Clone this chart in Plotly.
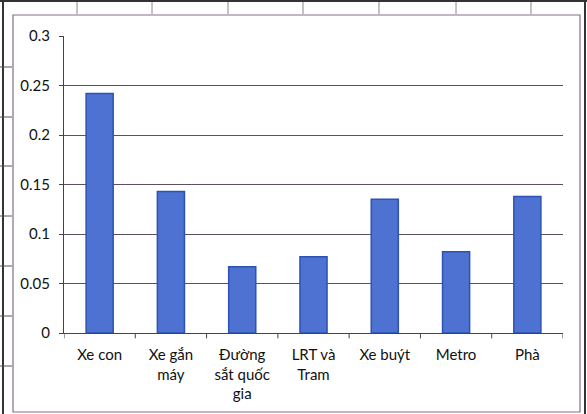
import plotly.graph_objects as go

categories = ["Xe con", "Xe gắn<br>máy", "Đường<br>sắt quốc<br>gia", "LRT và<br>Tram", "Xe buýt", "Metro", "Phà"]
values = [0.242, 0.143, 0.067, 0.077, 0.135, 0.082, 0.138]
y_ticks = [0, 0.05, 0.1, 0.15, 0.2, 0.25, 0.3]
y_tick_labels = ["0", "0.05", "0.1", "0.15", "0.2", "0.25", "0.3"]

fig = go.Figure()
fig.add_trace(go.Bar(
    x=list(range(len(categories))), y=values,
    marker=dict(color="#4d72d2", line=dict(color="#2c52b5", width=1.5)),
    width=0.38,
))

W, H = 587, 414
ml, mr, mt, mb = 64, 24, 36, 81
pw, ph = W - ml - mr, H - mt - mb

def px(x):
    return (x - ml) / pw

def py(y):
    return 1 - (y - mt) / ph

shapes = []
# chart area border
shapes.append(dict(type="rect", xref="paper", yref="paper",
                   x0=px(13), x1=px(580), y0=py(412), y1=py(15),
                   line=dict(color="#8a6a8a", width=1.2)))
# outer spreadsheet lines
shapes.append(dict(type="line", xref="paper", yref="paper", x0=px(3), x1=px(3), y0=py(414), y1=py(0),
                   line=dict(color="#333", width=2)))
shapes.append(dict(type="line", xref="paper", yref="paper", x0=px(585), x1=px(585), y0=py(414), y1=py(0),
                   line=dict(color="#333", width=2)))
shapes.append(dict(type="line", xref="paper", yref="paper", x0=px(0), x1=px(587), y0=py(1), y1=py(1),
                   line=dict(color="#333", width=2)))
for xx in [77, 152, 228, 303, 379, 456, 531]:
    shapes.append(dict(type="line", xref="paper", yref="paper", x0=px(xx), x1=px(xx), y0=py(14), y1=py(2),
                       line=dict(color="#888", width=1)))
for yy in [67, 117, 166, 216, 266, 316, 366]:
    shapes.append(dict(type="line", xref="paper", yref="paper", x0=px(0), x1=px(12), y0=py(yy), y1=py(yy),
                       line=dict(color="#555", width=1)))
# category tick marks
for i in range(len(categories) + 1):
    shapes.append(dict(type="line", xref="x", yref="paper", x0=i - 0.5, x1=i - 0.5, y0=0, y1=-0.018,
                       line=dict(color="#444", width=1)))

fig.update_layout(
    width=W, height=H,
    margin=dict(l=ml, r=mr, t=mt, b=mb),
    paper_bgcolor="white", plot_bgcolor="white",
    showlegend=False,
    bargap=0.62,
    font=dict(family="Lato", size=15, color="#111"),
    shapes=shapes,
    xaxis=dict(
        tickmode="array", tickvals=list(range(len(categories))), ticktext=categories,
        range=[-0.5, len(categories) - 0.5],
        showline=True, linecolor="#444", linewidth=1,
        ticks="", showgrid=False, tickfont=dict(size=15, color="#111"),
        ticklabelstandoff=8,
    ),
    yaxis=dict(
        range=[0, 0.3], tickmode="array", tickvals=y_ticks, ticktext=y_tick_labels,
        showline=True, linecolor="#444", linewidth=1,
        showgrid=True, gridcolor="#5e4e60", gridwidth=1,
        ticks="outside", ticklen=4, tickcolor="#444",
        tickfont=dict(size=15, color="#111"), zeroline=False,
        ticklabelstandoff=6,
    ),
)

fig.write_html("out.html")
